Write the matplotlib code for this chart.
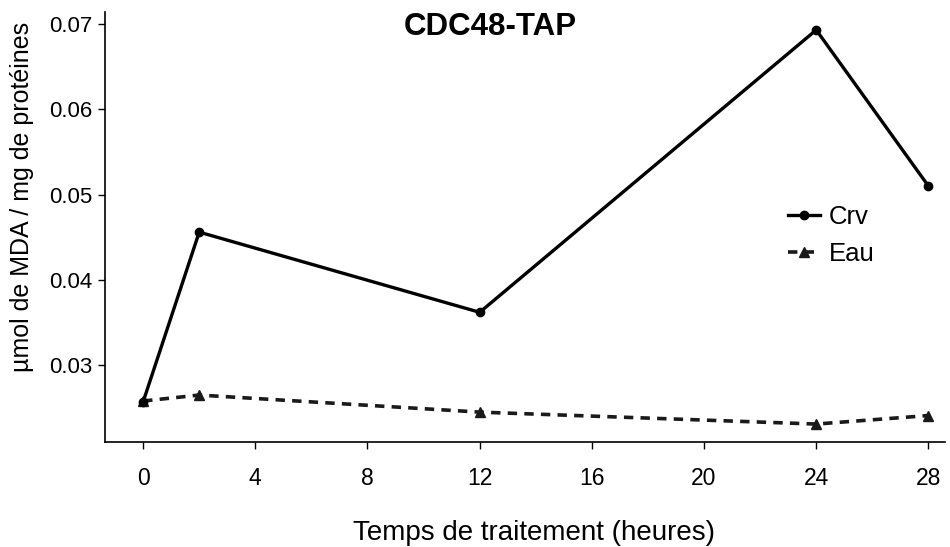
import matplotlib as mpl
from matplotlib import pyplot as plt

plt.rcParams['font.family'] = ['Liberation Sans', 'DejaVu Sans']

# data
temps   = [0, 2, 12, 24, 28]
crv     = [0.0257, 0.0456, 0.0362, 0.0693, 0.0510]
eau     = [0.0258, 0.0265, 0.0245, 0.0231, 0.0241]
xticks  = [0, 4, 8, 12, 16, 20, 24, 28]
yticks  = [0.03, 0.04, 0.05, 0.06, 0.07]

fig = plt.figure(figsize=(9.5, 5.47), dpi=100)
ax  = fig.add_axes([0.1105, 0.192, 0.8845, 0.786])

ax.plot(temps, eau, color='#1a1a1a', lw=2.6, ls=(0, (2.6, 2.0)),
        marker='^', ms=7, label='Eau', zorder=2)
ax.plot(temps, crv, color='black', lw=2.4, ls='-',
        marker='o', ms=6, label='Crv', zorder=3)

ax.set_xlim(-1.36, 28.6)
ax.set_ylim(0.021, 0.0714)
ax.set_xticks(xticks)
ax.set_yticks(yticks)
ax.set_yticklabels(['{:.2f}'.format(v) for v in yticks])

for side in ['top', 'right']:
    ax.spines[side].set_visible(False)
for side in ['left', 'bottom']:
    ax.spines[side].set_linewidth(1.2)
ax.tick_params(axis='y', labelsize=16, length=5, width=1, pad=4)
ax.tick_params(axis='x', labelsize=16.5, length=5, width=1, pad=13)

ax.set_xlabel('Temps de traitement (heures)', fontsize=20)
ax.set_ylabel('µmol de MDA / mg de protéines', fontsize=18)
ax.xaxis.set_label_coords(0.511, -0.182)
ax.yaxis.set_label_coords(-0.085, 0.57)

fig.text(0.516, 0.950, 'CDC48-TAP', fontsize=22.5, fontweight='bold',
         ha='center', va='center')

h, l = ax.get_legend_handles_labels()
ax.legend(h[::-1], l[::-1], loc='center left', bbox_to_anchor=(0.813, 0.48),
          frameon=False, fontsize=18.5, handlelength=1.25, handletextpad=0.35,
          labelspacing=0.5, borderpad=0, borderaxespad=0)

fig.savefig('out.png', dpi=100)
